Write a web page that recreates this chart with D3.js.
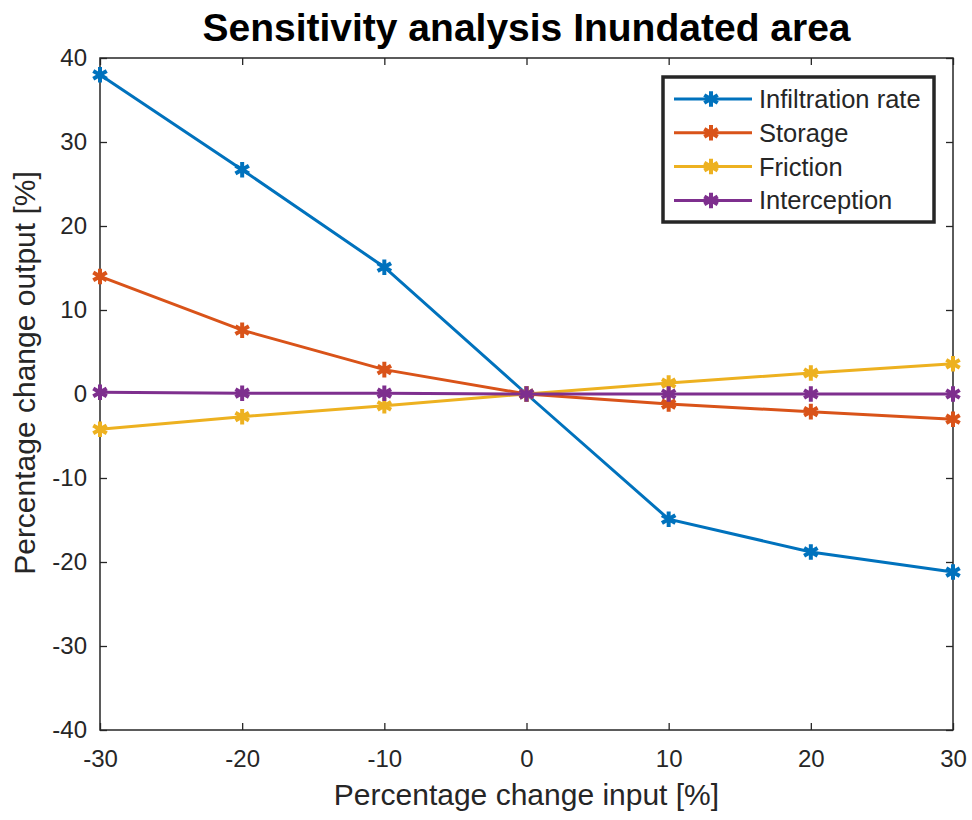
<!DOCTYPE html>
<html>
<head>
<meta charset="utf-8">
<script src="https://cdn.jsdelivr.net/npm/d3@7"></script>
<style>
  body { margin: 0; background: #fff; }
  text { font-family: "Liberation Sans", Arial, sans-serif; }
</style>
</head>
<body>
<svg width="972" height="820"></svg>
<script>
// Chart values
const inputs = [-30, -20, -10, 0, 10, 20, 30];
const infiltration = [38.0, 26.7, 15.1, 0, -14.9, -18.8, -21.2];
const storage = [14.0, 7.6, 2.9, 0, -1.2, -2.1, -3.0];
const friction = [-4.2, -2.7, -1.4, 0, 1.3, 2.5, 3.6];
const interception = [0.2, 0.1, 0.1, 0, 0, 0, 0];
const seriesNames = ["Infiltration rate", "Storage", "Friction", "Interception"];
const colors = ["#0072BD", "#D95319", "#EDB120", "#7E2F8E"];
const xTicks = [-30, -20, -10, 0, 10, 20, 30];
const yTicks = [-40, -30, -20, -10, 0, 10, 20, 30, 40];

const series = [infiltration, storage, friction, interception];

const margin = { top: 58, right: 19, bottom: 90, left: 100 };
const width = 972, height = 820;

const svg = d3.select("svg");

const x = d3.scaleLinear().domain([-30, 30]).range([margin.left, width - margin.right]);
const y = d3.scaleLinear().domain([-40, 40]).range([height - margin.bottom, margin.top]);

const axisColor = "#262626";
const fmt = d => String(d); // plain hyphen minus, like MATLAB

// Axes with inward ticks (MATLAB style), mirrored on top and right
function styleAxis(g) {
    g.select(".domain").remove();
    g.selectAll(".tick line").attr("stroke", axisColor).attr("stroke-width", 1.3);
    g.selectAll(".tick text")
        .attr("fill", axisColor)
        .attr("font-size", "24px");
}

svg.append("g")
    .attr("transform", `translate(0, ${y(-40)})`)
    .call(d3.axisBottom(x).tickValues(xTicks).tickFormat(fmt).tickSize(-7).tickPadding(20))
    .call(styleAxis);

svg.append("g")
    .attr("transform", `translate(0, ${y(40)})`)
    .call(d3.axisTop(x).tickValues(xTicks).tickSize(-7).tickFormat(""))
    .call(styleAxis);

svg.append("g")
    .attr("transform", `translate(${x(-30)}, 0)`)
    .call(d3.axisLeft(y).tickValues(yTicks).tickFormat(fmt).tickSize(-7).tickPadding(13))
    .call(styleAxis);

svg.append("g")
    .attr("transform", `translate(${x(30)}, 0)`)
    .call(d3.axisRight(y).tickValues(yTicks).tickSize(-7).tickFormat(""))
    .call(styleAxis);

// Box around plot
svg.append("rect")
    .attr("x", x(-30))
    .attr("y", y(40))
    .attr("width", x(30) - x(-30))
    .attr("height", y(-40) - y(40))
    .attr("fill", "none")
    .attr("stroke", axisColor)
    .attr("stroke-width", 1.5);

// Lines and markers
const line = d3.line()
    .x((d, i) => x(inputs[i]))
    .y(d => y(d));

const marker = d3.symbol().type(d3.symbolAsterisk).size(170);

series.forEach((vals, s) => {
    svg.append("path")
        .attr("d", line(vals))
        .attr("fill", "none")
        .attr("stroke", colors[s])
        .attr("stroke-width", 3);

    svg.selectAll(null)
        .data(vals)
        .enter()
        .append("path")
        .attr("transform", (d, i) => `translate(${x(inputs[i])}, ${y(d)})`)
        .attr("d", marker)
        .attr("fill", "none")
        .attr("stroke", colors[s])
        .attr("stroke-width", 4);
});

// Legend
const legend = svg.append("g").attr("transform", "translate(663, 77)");
legend.append("rect")
    .attr("width", 271)
    .attr("height", 145)
    .attr("fill", "#fff")
    .attr("stroke", "#262626")
    .attr("stroke-width", 3.5);

seriesNames.forEach((name, s) => {
    const ly = 22 + s * 33.8;
    legend.append("line")
        .attr("x1", 11).attr("x2", 89)
        .attr("y1", ly).attr("y2", ly)
        .attr("stroke", colors[s])
        .attr("stroke-width", 3);
    legend.append("path")
        .attr("transform", `translate(48, ${ly})`)
        .attr("d", marker)
        .attr("fill", "none")
        .attr("stroke", colors[s])
        .attr("stroke-width", 4);
    legend.append("text")
        .attr("x", 96)
        .attr("y", ly)
        .attr("dy", "0.35em")
        .attr("font-size", "25.5px")
        .attr("fill", axisColor)
        .text(name);
});

// Title and axis labels
svg.append("text")
    .attr("x", (x(-30) + x(30)) / 2)
    .attr("y", 41)
    .attr("text-anchor", "middle")
    .attr("font-size", "39px")
    .attr("font-weight", "bold")
    .attr("fill", "#000")
    .text("Sensitivity analysis Inundated area");

svg.append("text")
    .attr("x", (x(-30) + x(30)) / 2)
    .attr("y", 805)
    .attr("text-anchor", "middle")
    .attr("font-size", "30px")
    .attr("fill", axisColor)
    .text("Percentage change input [%]");

svg.append("text")
    .attr("transform", `translate(35, 373) rotate(-90)`)
    .attr("text-anchor", "middle")
    .attr("font-size", "30px")
    .attr("fill", axisColor)
    .text("Percentage change output [%]");
</script>
</body>
</html>
